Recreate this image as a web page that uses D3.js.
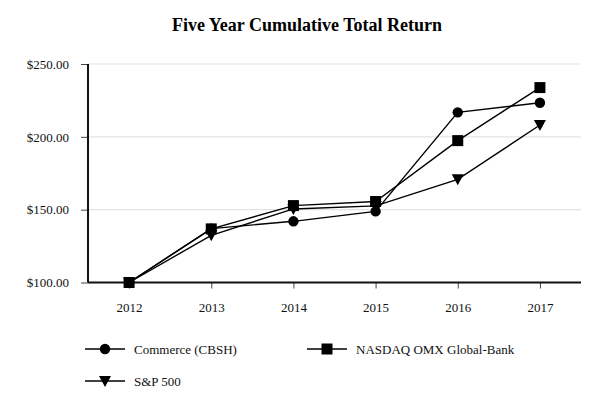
<!DOCTYPE html>
<html>
<head>
<meta charset="utf-8">
<script src="https://cdn.jsdelivr.net/npm/d3@7"></script>
<style>
  body { margin: 0; background: #fff; }
  svg { display: block; font-family: "Liberation Serif", "Times New Roman", serif; }
</style>
</head>
<body>
<svg id="svg" width="614" height="418"></svg>
<script>
// chart data
var years = ["2012", "2013", "2014", "2015", "2016", "2017"];
var commerce = [100, 137.0, 142.0, 148.8, 216.8, 223.4];
var nasdaqBank = [100, 136.8, 152.8, 155.6, 197.4, 233.8];
var sp500 = [100, 132.4, 150.5, 152.6, 170.8, 208.1];
var seriesNames = ["Commerce (CBSH)", "NASDAQ OMX Global-Bank", "S&P 500"];
var yTicks = [100, 150, 200, 250];

var svg = d3.select("#svg");

// plot area (note: "top" is reserved on window, so use plot* names)
var plotLeft = 88, plotRight = 581, plotTop = 64, plotBottom = 282.5;

var x = d3.scalePoint().domain(years).range([plotLeft, plotRight]).padding(0.5);
var y = d3.scaleLinear().domain([100, 250]).range([plotBottom, plotTop]);

// title
svg.append("text")
  .attr("x", 307).attr("y", 31)
  .attr("text-anchor", "middle")
  .attr("font-size", 18).attr("font-weight", "bold")
  .text("Five Year Cumulative Total Return");

// gridlines
svg.append("g").selectAll("line")
  .data(yTicks.filter(function(d) { return d > 100; }))
  .enter().append("line")
  .attr("x1", plotLeft).attr("x2", plotRight)
  .attr("y1", function(d) { return y(d); })
  .attr("y2", function(d) { return y(d); })
  .attr("stroke", "#e3e3e3").attr("stroke-width", 1.2);

// y axis
var yAxis = svg.append("g")
  .attr("transform", "translate(" + plotLeft + ",0)")
  .call(d3.axisLeft(y).tickValues(yTicks).tickSize(7).tickPadding(12)
    .tickFormat(function(d) { return "$" + d3.format(".2f")(d); }));
yAxis.select(".domain").remove();
yAxis.selectAll(".tick line").attr("stroke", "#444");
yAxis.selectAll("text").attr("font-size", 13).attr("fill", "#111")
  .attr("font-family", "Liberation Serif, serif");

// x axis
var xAxis = svg.append("g")
  .attr("transform", "translate(0," + plotBottom + ")")
  .call(d3.axisBottom(x).tickSize(6).tickPadding(14));
xAxis.select(".domain").remove();
xAxis.selectAll(".tick line").attr("stroke", "#444");
xAxis.selectAll("text").attr("font-size", 13).attr("fill", "#111")
  .attr("font-family", "Liberation Serif, serif");

// axis lines
svg.append("line")
  .attr("x1", plotLeft).attr("x2", plotLeft).attr("y1", plotTop).attr("y2", plotBottom)
  .attr("stroke", "#111").attr("stroke-width", 2);
svg.append("line")
  .attr("x1", plotLeft).attr("x2", plotRight).attr("y1", plotBottom).attr("y2", plotBottom)
  .attr("stroke", "#111").attr("stroke-width", 2);

// marker drawing
function marker(g, type, cx, cy) {
  if (type === "circle") {
    g.append("circle").attr("cx", cx).attr("cy", cy).attr("r", 5.2).attr("fill", "#000");
  } else if (type === "square") {
    g.append("rect").attr("x", cx - 5.5).attr("y", cy - 5.5)
      .attr("width", 11).attr("height", 11).attr("fill", "#000");
  } else {
    g.append("path")
      .attr("d", "M" + (cx - 6) + "," + (cy - 5) + "L" + (cx + 6) + "," + (cy - 5) + "L" + cx + "," + (cy + 6) + "Z")
      .attr("fill", "#000");
  }
}

var series = [
  { name: seriesNames[0], values: commerce, type: "circle" },
  { name: seriesNames[1], values: nasdaqBank, type: "square" },
  { name: seriesNames[2], values: sp500, type: "triangle" }
];

var line = d3.line()
  .x(function(d, i) { return x(years[i]); })
  .y(function(d) { return y(d); });

var gLines = svg.append("g");
series.forEach(function(s) {
  gLines.append("path")
    .attr("d", line(s.values))
    .attr("fill", "none").attr("stroke", "#000").attr("stroke-width", 1.4);
});
series.forEach(function(s) {
  var g = svg.append("g");
  s.values.forEach(function(v, i) { marker(g, s.type, x(years[i]), y(v)); });
});

// legend
var legendPos = [
  { lx: 85, ly: 349 },
  { lx: 307, ly: 349 },
  { lx: 85, ly: 381 }
];
series.forEach(function(s, i) {
  var p = legendPos[i];
  var g = svg.append("g");
  g.append("line").attr("x1", p.lx).attr("x2", p.lx + 40)
    .attr("y1", p.ly).attr("y2", p.ly).attr("stroke", "#000").attr("stroke-width", 1.6);
  marker(g, s.type, p.lx + 20, p.ly);
  g.append("text").attr("x", p.lx + 49).attr("y", p.ly + 4.5)
    .attr("font-size", 13).attr("fill", "#111").text(s.name);
});
</script>
</body>
</html>
